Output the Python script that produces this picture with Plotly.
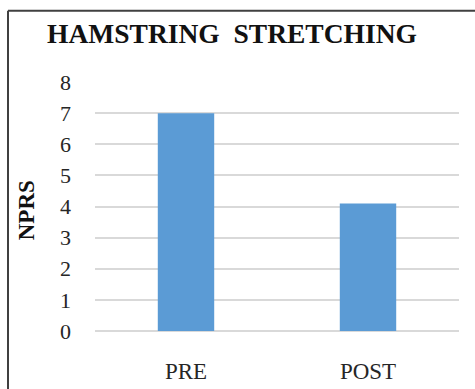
import plotly.graph_objects as go

categories = ["PRE", "POST"]
nprs_values = [7.0, 4.1]
y_ticks = [0, 1, 2, 3, 4, 5, 6, 7, 8]

W, H = 475, 389
L, R, T, B = 95, 16, 81.5, 58
pw, ph = W - L - R, H - T - B

def px_x(px):
    return (px - L) / pw

def px_y(py):
    return (H - B - py) / ph

fig = go.Figure()
fig.add_trace(go.Bar(
    x=categories, y=nprs_values, width=0.31,
    marker=dict(color="#5B9BD5", line=dict(width=0)),
))

serif = "Liberation Serif, Times New Roman, serif"

fig.update_layout(
    width=W, height=H,
    margin=dict(l=L, r=R, t=T, b=B, autoexpand=False),
    paper_bgcolor="white", plot_bgcolor="white",
    showlegend=False,
    title=dict(
        text="<b>HAMSTRING\u00a0 STRETCHING</b>",
        x=232 / W, xref="container", xanchor="center",
        y=1 - 33 / H, yref="container", yanchor="middle",
        font=dict(family=serif, size=27.5, color="#111111"),
    ),
    xaxis=dict(
        showgrid=False, zeroline=False, showline=False, ticks="",
        tickfont=dict(family=serif, size=23, color="#262626"),
        ticklabelstandoff=24, automargin=False,
    ),
    yaxis=dict(
        range=[0, 8], tickvals=y_ticks,
        showgrid=True, gridcolor="#d9d9d9", gridwidth=1.5,
        zeroline=True, zerolinecolor="#d9d9d9", zerolinewidth=1.5,
        showline=False, ticks="",
        tickfont=dict(family=serif, size=22, color="#262626"),
        ticklabelstandoff=23, automargin=False,
    ),
    bargap=0.69,
)

fig.add_annotation(
    text="<b>NPRS</b>", textangle=-90,
    x=px_x(26), y=px_y(210), xref="paper", yref="paper",
    xanchor="center", yanchor="middle", showarrow=False,
    font=dict(family=serif, size=23, color="#111111"),
)

# chart-area border (left and top edges visible)
fig.add_shape(type="line", xref="paper", yref="paper",
              x0=px_x(8), x1=px_x(8), y0=px_y(10), y1=px_y(400),
              line=dict(color="#404040", width=2))
fig.add_shape(type="line", xref="paper", yref="paper",
              x0=px_x(8), x1=px_x(480), y0=px_y(10), y1=px_y(10),
              line=dict(color="#404040", width=2))

fig.write_html("out.html")
